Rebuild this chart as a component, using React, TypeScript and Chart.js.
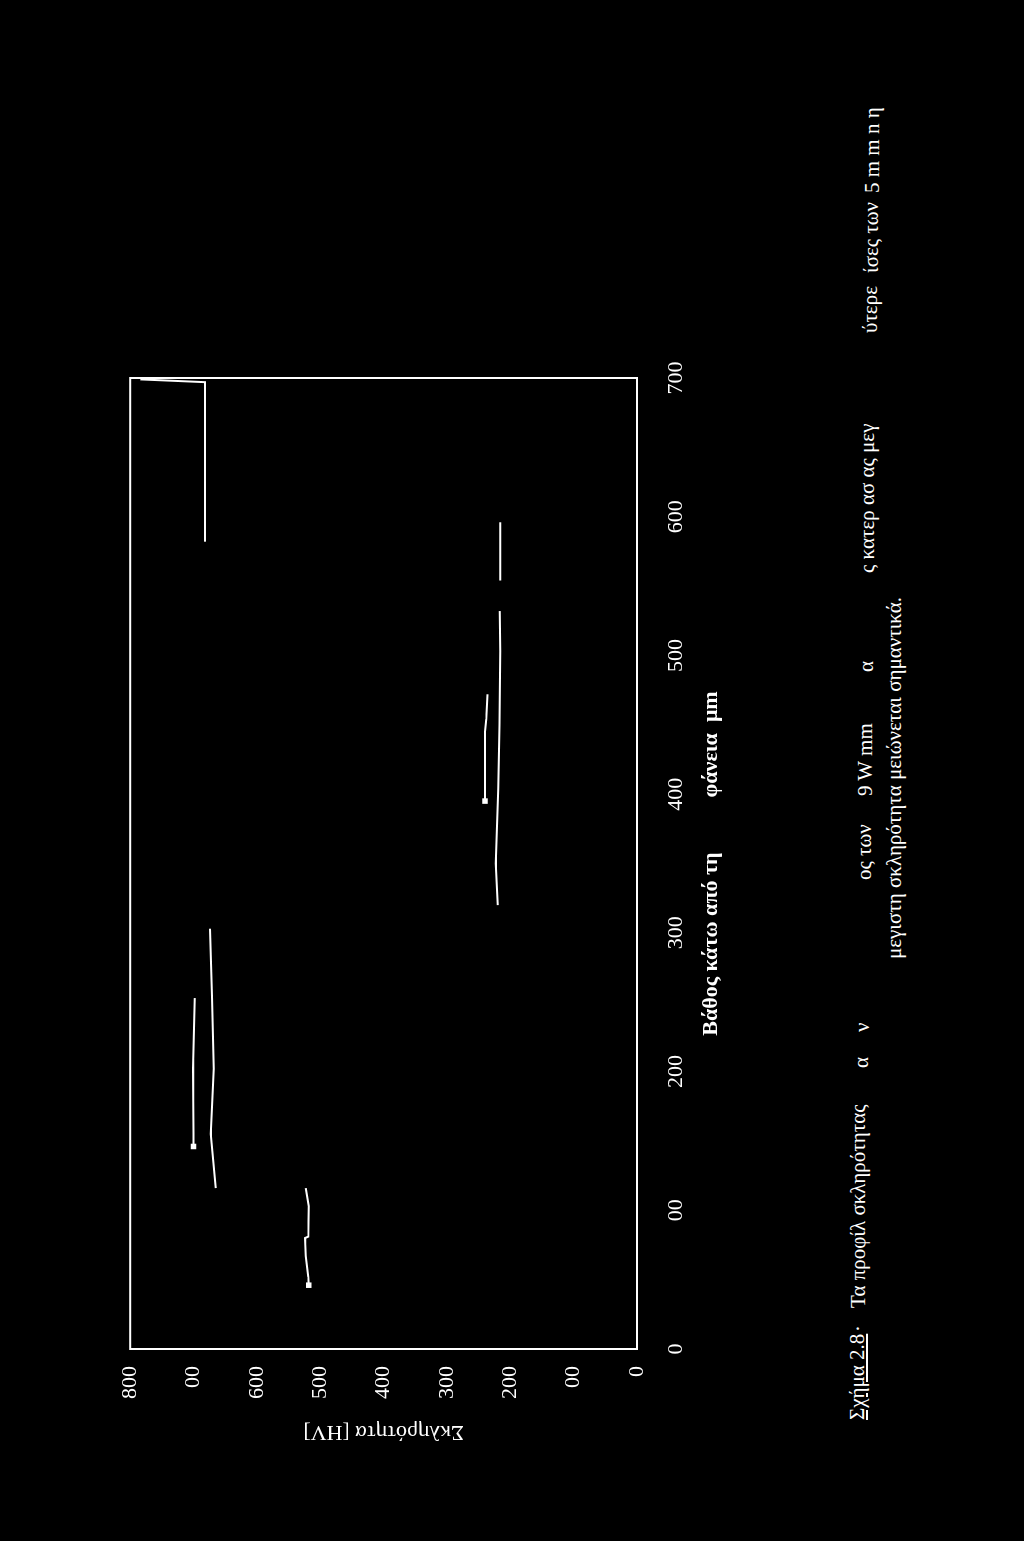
import React, { useEffect, useRef } from 'react';
import { Chart, registerables, Plugin } from 'chart.js';

Chart.register(...registerables);

// depth below the surface (μm) / hardness (HV)
const s1Depth = [46, 52, 67, 80, 81, 103, 116];
const s1Hard = [518, 519, 523, 524, 519, 518, 523];
const s2Depth = [116, 155, 202, 254, 303];
const s2Hard = [665, 673, 668, 671, 674];
const s3Depth = [146, 155, 202, 253];
const s3Hard = [700, 700, 701, 698];
const s4Depth = [582, 697, 699];
const s4Hard = [682, 682, 784];
const s5Depth = [554, 596];
const s5Hard = [216, 216];
const s6Depth = [320, 350, 404, 450, 503, 532];
const s6Hard = [220, 223, 219, 217, 216, 216.5];
const s7Depth = [395, 445, 454, 472];
const s7Hard = [240, 240, 238, 236];

// tick labels as printed (some digits lost in the scan)
const depthTickLabels = ['0', '00', '200', '300', '400', '500', '600', '700'];
const hardnessTickLabels = ['0', '00', '200', '300', '400', '500', '600', '00', '800'];

const SERIF = '"Liberation Serif", "Times New Roman", serif';

const toPoints = (xs: number[], ys: number[]) => xs.map((x, i) => ({ x, y: ys[i] }));

// white box round the plot area
const framePlugin: Plugin = {
  id: 'frame',
  afterDatasetsDraw(chart) {
    const { ctx, chartArea: a } = chart;
    ctx.save();
    ctx.strokeStyle = '#fff';
    ctx.lineWidth = 2;
    ctx.strokeRect(a.left, a.top, a.right - a.left, a.bottom - a.top);
    ctx.restore();
  },
};

// caption pieces (the scan has holes in the text)
const captionLine1 = [
  { t: '·', u: 209 },
  { t: 'Τα προφίλ σκληρότητας', u: 233 },
  { t: 'α', u: 473 },
  { t: 'ν', u: 509 },
  { t: 'ος των', u: 661 },
  { t: '9 W mm', u: 745 },
  { t: 'α', u: 869 },
  { t: 'ς κατερ ασ ας μεγ', u: 968 },
  { t: 'ύτερε', u: 1208 },
  { t: 'ίσες των', u: 1268 },
  { t: '5 m m n η', u: 1348 },
];

const lineTop = (u: number) => 860 + ((u - 121) * 16) / 1317 - 13;

const HardnessChart: React.FC = () => {
  const canvasRef = useRef<HTMLCanvasElement>(null);
  const chartRef = useRef<Chart | null>(null);

  useEffect(() => {
    if (!canvasRef.current) return;
    if (chartRef.current) chartRef.current.destroy();

    const mk = (xs: number[], ys: number[], marker = false) => ({
      data: toPoints(xs, ys),
      showLine: true,
      borderColor: '#fff',
      backgroundColor: '#fff',
      borderWidth: 2,
      pointStyle: 'rect' as const,
      pointRadius: marker ? (c: any) => (c.dataIndex === 0 ? 2.5 : 0) : 0,
      tension: 0,
    });

    chartRef.current = new Chart(canvasRef.current, {
      type: 'scatter',
      data: {
        datasets: [
          mk(s1Depth, s1Hard, true),
          mk(s2Depth, s2Hard),
          mk(s3Depth, s3Hard, true),
          mk(s4Depth, s4Hard),
          mk(s5Depth, s5Hard),
          mk(s6Depth, s6Hard),
          mk(s7Depth, s7Hard, true),
        ],
      },
      options: {
        responsive: true,
        maintainAspectRatio: false,
        animation: false,
        layout: { padding: { left: 0, top: 28, right: 49, bottom: 0 } },
        plugins: { legend: { display: false }, tooltip: { enabled: false } },
        scales: {
          x: {
            type: 'linear',
            min: 0,
            max: 700,
            grid: { display: false, drawTicks: false },
            border: { display: false },
            ticks: {
              stepSize: 100,
              color: '#fff',
              padding: 26,
              maxRotation: 0,
              autoSkip: false,
              font: { family: SERIF, size: 22 },
              callback: (v: any) => depthTickLabels[Math.round(Number(v) / 100)],
            },
            title: {
              display: true,
              text: 'Βάθος κάτω από τη          φάνεια  μm',
              color: '#fff',
              font: { family: SERIF, size: 22, weight: 'bold' },
              padding: { top: 0, bottom: 12 },
            },
            afterFit: (s: any) => {
              s.height = 100;
            },
          },
          y: {
            type: 'linear',
            min: 0,
            max: 800,
            grid: { display: false, drawTicks: false },
            border: { display: false },
            ticks: {
              stepSize: 100,
              color: '#fff',
              padding: 17,
              autoSkip: false,
              font: { family: SERIF, size: 22 },
              callback: (v: any) => hardnessTickLabels[Math.round(Number(v) / 100)],
            },
            title: {
              display: true,
              text: 'Σκληρότητα [HV]',
              color: '#fff',
              font: { family: SERIF, size: 22 },
              padding: { top: 16, bottom: 0 },
            },
            afterFit: (s: any) => {
              s.width = 112;
            },
          },
        },
      },
      plugins: [framePlugin],
    });

    return () => {
      if (chartRef.current) {
        chartRef.current.destroy();
        chartRef.current = null;
      }
    };
  }, []);

  return (
    <div style={{ position: 'absolute', left: 80, top: 100, width: 1132, height: 637 }}>
      <canvas ref={canvasRef}></canvas>
    </div>
  );
};

const App: React.FC = () => {
  useEffect(() => {
    document.documentElement.style.background = '#000';
    document.documentElement.style.overflow = 'hidden';
    document.body.style.background = '#000';
    document.body.style.overflow = 'hidden';
  }, []);

  const textStyle: React.CSSProperties = {
    position: 'absolute',
    fontFamily: SERIF,
    fontSize: 21,
    lineHeight: '21px',
    color: '#fff',
    whiteSpace: 'pre',
  };

  return (
    // the page is printed sideways: draw upright, then turn it a quarter left
    <div
      style={{
        position: 'absolute',
        left: 0,
        top: 0,
        width: 1541,
        height: 1024,
        background: '#000',
        transformOrigin: '0 0',
        transform: 'translateY(1541px) rotate(-90deg)',
        overflow: 'hidden',
      }}
    >
      <HardnessChart />
      <span style={{ ...textStyle, left: 121, top: lineTop(121), textDecoration: 'underline' }}>Σχήμα 2.8</span>
      {captionLine1.map((f, i) => (
        <span key={i} style={{ ...textStyle, left: f.u, top: lineTop(f.u) }}>
          {f.t}
        </span>
      ))}
      <span style={{ ...textStyle, left: 582, top: 884 }}>μεγιστη σκληρότητα μειώνεται σημαντικά.</span>
    </div>
  );
};

export default App;
